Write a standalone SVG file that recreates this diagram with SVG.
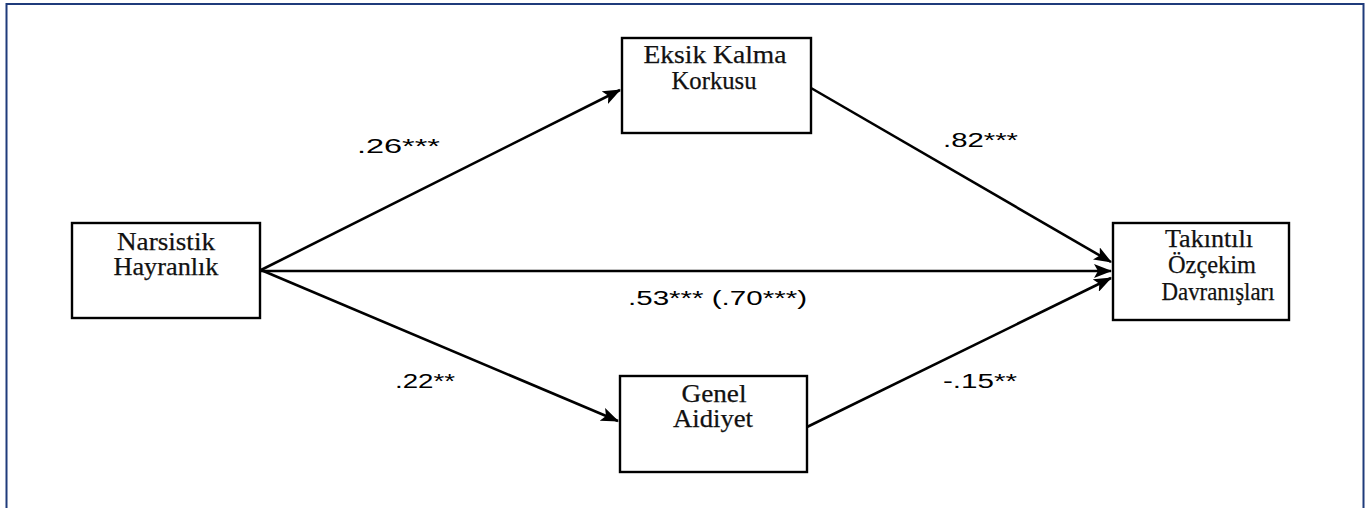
<svg xmlns="http://www.w3.org/2000/svg" width="1367" height="508" viewBox="0 0 1367 508">
<style>
.node rect{fill:#fff;stroke:#000;stroke-width:2.4}
.node text{font-family:"Liberation Serif","Times New Roman",serif;font-size:25px;fill:#111;stroke:#111;stroke-width:0.25;text-anchor:middle}
.lbl{font-family:"Liberation Sans",Arial,sans-serif;font-size:20px;fill:#000}
.conn line{stroke:#000;stroke-width:2.6}
</style>
<defs>
<marker id="ah" markerUnits="userSpaceOnUse" markerWidth="18" markerHeight="14" refX="17" refY="7" orient="auto">
<polygon points="0,0 18,7 0,14 4,7" fill="#000"/>
</marker>
</defs>
<rect x="0" y="0" width="1367" height="508" fill="#fff"/>
<rect x="6.5" y="4" width="1357" height="540" fill="none" stroke="#1F3B7B" stroke-width="2"/>
<g id="connectors" class="conn">
<line x1="261" y1="270" x2="620" y2="90" marker-end="url(#ah)"/>
<line x1="261" y1="270" x2="618" y2="421" marker-end="url(#ah)"/>
<line x1="261" y1="271" x2="1111" y2="271" marker-end="url(#ah)"/>
<line x1="811" y1="88" x2="1111" y2="262" marker-end="url(#ah)"/>
<line x1="807" y1="427" x2="1111" y2="278" marker-end="url(#ah)"/>
</g>
<g id="labels">
<text class="lbl" x="357" y="153" textLength="83" lengthAdjust="spacingAndGlyphs">.26***</text>
<text class="lbl" x="943" y="147" textLength="75" lengthAdjust="spacingAndGlyphs">.82***</text>
<text class="lbl" x="628" y="305" textLength="179" lengthAdjust="spacingAndGlyphs">.53*** (.70***)</text>
<text class="lbl" x="395" y="388" textLength="60" lengthAdjust="spacingAndGlyphs">.22**</text>
<text class="lbl" x="943" y="388" textLength="74" lengthAdjust="spacingAndGlyphs">-.15**</text>
</g>
<g id="narsistik" class="node">
<rect x="72" y="223" width="188" height="95"/>
<text x="166" y="250" textLength="98" lengthAdjust="spacingAndGlyphs">Narsistik</text>
<text x="166" y="275" textLength="105" lengthAdjust="spacingAndGlyphs">Hayranlık</text>
</g>
<g id="eksik" class="node">
<rect x="622" y="38" width="189" height="95"/>
<text x="715" y="63" textLength="143" lengthAdjust="spacingAndGlyphs">Eksik Kalma</text>
<text x="714" y="89" textLength="85" lengthAdjust="spacingAndGlyphs">Korkusu</text>
</g>
<g id="takintili" class="node">
<rect x="1113" y="223" width="176" height="97"/>
<text x="1209" y="247" textLength="88" lengthAdjust="spacingAndGlyphs">Takıntılı</text>
<text x="1212" y="273" textLength="88" lengthAdjust="spacingAndGlyphs">Özçekim</text>
<text x="1218" y="300" textLength="113" lengthAdjust="spacingAndGlyphs">Davranışları</text>
</g>
<g id="genel" class="node">
<rect x="620" y="376" width="187" height="96"/>
<text x="714" y="402" textLength="65" lengthAdjust="spacingAndGlyphs">Genel</text>
<text x="713" y="427" textLength="80" lengthAdjust="spacingAndGlyphs">Aidiyet</text>
</g>
</svg>
